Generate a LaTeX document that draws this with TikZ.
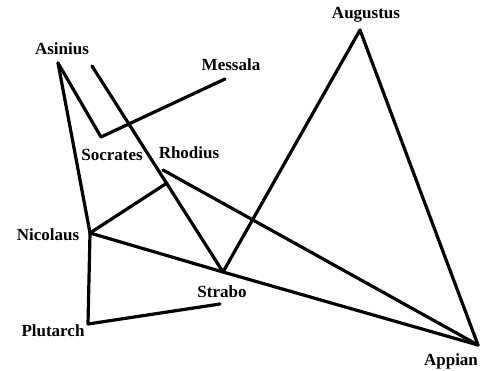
\documentclass[tikz,border=0pt]{standalone}
\usepackage{fontspec}
\setmainfont{Liberation Serif}
\usetikzlibrary{positioning}

\begin{document}
\begin{tikzpicture}[
  x=1pt, y=-1pt,
  author/.style={font=\fontsize{17}{20}\selectfont\bfseries, inner sep=0pt},
  link/.style={line width=3.2pt, line cap=round, line join=round}
]
\useasboundingbox (0,0) rectangle (486,371);

% points where the lines meet
\coordinate (asinius) at (58,63);
\coordinate (rhodtop) at (92,66);
\coordinate (socrates) at (101,137);
\coordinate (messala) at (225,79);
\coordinate (rhodius) at (163,170);
\coordinate (rhodnic) at (167,183);
\coordinate (nicolaus) at (90,233);
\coordinate (plutarch) at (88,324);
\coordinate (strabo) at (223,272);
\coordinate (straboend) at (220,304);
\coordinate (augustus) at (360,30);
\coordinate (appian) at (478,345);

% names
\node[author] (lasinius) at (62,49) {Asinius};
\node[author] (lmessala) at (231,65) {Messala};
\node[author] (lsocrates) at (112,155) {Socrates};
\node[author] (lrhodius) at (189,153) {Rhodius};
\node[author] (lnicolaus) at (48,235) {Nicolaus};
\node[author] (lstrabo) at (222,292) {Strabo};
\node[author] (lplutarch) at (53,331) {Plutarch};
\node[author] (laugustus) at (366,15) {Augustus};
\node[author] (lappian) at (451,361) {Appian};

\draw[link] (asinius) -- (nicolaus);
\draw[link] (asinius) -- (socrates) -- (messala);
\draw[link] (rhodtop) -- (strabo);
\draw[link] (nicolaus) -- (rhodnic);
\draw[link] (rhodius) -- (appian);
\draw[link] (nicolaus) -- (strabo) -- (appian);
\draw[link] (nicolaus) -- (plutarch) -- (straboend);
\draw[link] (strabo) -- (augustus) -- (appian);
\end{tikzpicture}
\end{document}
